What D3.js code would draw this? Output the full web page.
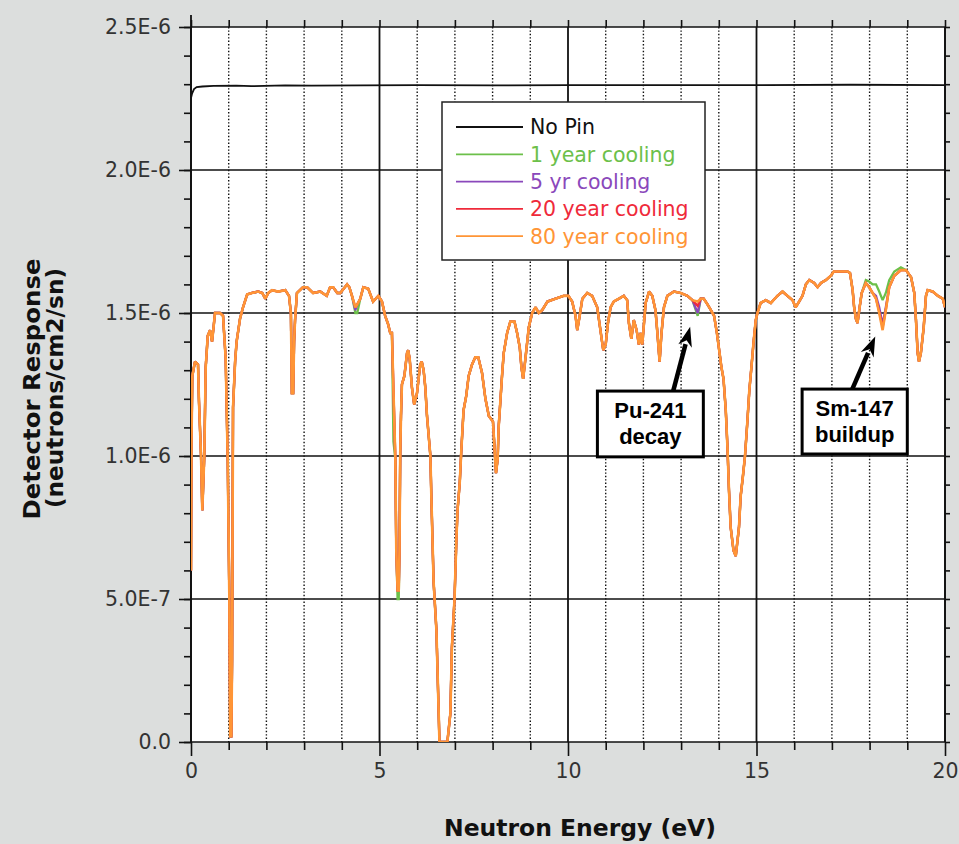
<!DOCTYPE html>
<html>
<head>
<meta charset="utf-8">
<script src="https://cdn.jsdelivr.net/npm/d3@7"></script>
<style>
  html, body { margin: 0; padding: 0; background: #dcdedd; }
  svg { display: block; }
</style>
</head>
<body>
<svg id="chart" width="959" height="844"></svg>
<script>
// ---- Data (detector response in units of 1E-6 neutrons/cm2/sn) ----
const seriesNames  = ["No Pin", "1 year cooling", "5 yr cooling", "20 year cooling", "80 year cooling"];
const seriesColors = ["#111111", "#6cc04a", "#8a48bb", "#ef2a3a", "#ff9536"];

// Unpinned reference response
const noPinEnergy = [0, 0.03, 0.08, 0.15, 0.3, 0.6, 1.2, 1.6, 2.5, 3.2, 4.5, 6, 8, 10, 12.5, 15, 17.5, 20];
const noPinResp   = [2.252, 2.268, 2.283, 2.290, 2.292, 2.294, 2.295, 2.293, 2.296, 2.295, 2.296, 2.297, 2.296, 2.297, 2.297, 2.297, 2.298, 2.297];

// 80 year cooling response: [energy eV, response]
const cooling80yr = [
  [0,0.60],[0.013,1.05],[0.035,1.28],[0.106,1.33],[0.186,1.32],[0.212,1.19],[0.266,1.00],[0.300,0.81],
  [0.353,1.00],[0.39,1.31],[0.444,1.42],[0.505,1.44],[0.558,1.40],[0.598,1.45],[0.637,1.50],[0.77,1.50],
  [0.85,1.49],[0.92,1.34],[0.975,0.98],[1.017,0.50],[1.04,0.02],[1.07,0.02],[1.09,0.29],[1.115,1.17],
  [1.17,1.33],[1.21,1.40],[1.30,1.48],[1.38,1.52],[1.49,1.565],[1.62,1.57],[1.78,1.575],[1.89,1.57],
  [1.97,1.55],[2.05,1.57],[2.15,1.58],[2.31,1.575],[2.50,1.58],[2.60,1.56],[2.65,1.50],[2.675,1.22],
  [2.71,1.22],[2.735,1.40],[2.76,1.475],[2.81,1.57],[2.97,1.59],[3.08,1.59],[3.24,1.57],[3.43,1.575],
  [3.60,1.56],[3.69,1.59],[3.77,1.59],[3.88,1.57],[3.96,1.57],[4.14,1.60],[4.20,1.59],[4.27,1.56],
  [4.36,1.52],[4.41,1.53],[4.49,1.55],[4.57,1.59],[4.70,1.585],[4.83,1.54],[4.97,1.56],[5.065,1.54],
  [5.15,1.49],[5.23,1.46],[5.285,1.43],[5.33,1.43],[5.37,1.23],[5.42,0.99],[5.445,0.67],[5.48,0.53],
  [5.51,0.53],[5.53,0.67],[5.55,1.01],[5.57,1.14],[5.595,1.25],[5.66,1.28],[5.73,1.36],[5.76,1.37],
  [5.80,1.34],[5.86,1.24],[5.92,1.18],[5.995,1.22],[6.08,1.32],[6.12,1.33],[6.17,1.30],[6.215,1.24],
  [6.26,1.14],[6.35,1.00],[6.375,0.86],[6.435,0.56],[6.51,0.39],[6.57,0.10],[6.59,0.0],[6.80,0.0],
  [6.88,0.10],[6.92,0.33],[6.99,0.50],[7.04,0.71],[7.07,0.81],[7.13,0.91],[7.17,1.02],[7.23,1.16],
  [7.30,1.21],[7.365,1.28],[7.455,1.32],[7.54,1.345],[7.62,1.345],[7.72,1.29],[7.81,1.20],[7.90,1.14],
  [8.01,1.12],[8.05,1.03],[8.09,0.94],[8.135,0.99],[8.16,1.10],[8.21,1.20],[8.25,1.28],[8.295,1.36],
  [8.385,1.43],[8.47,1.47],[8.58,1.47],[8.65,1.43],[8.72,1.38],[8.765,1.31],[8.81,1.27],[8.87,1.34],
  [8.96,1.45],[9.05,1.50],[9.14,1.52],[9.225,1.50],[9.315,1.51],[9.455,1.54],[9.67,1.55],[9.88,1.56],
  [10.01,1.56],[10.11,1.54],[10.20,1.49],[10.245,1.44],[10.31,1.49],[10.38,1.55],[10.51,1.57],[10.64,1.56],
  [10.775,1.52],[10.86,1.44],[10.935,1.37],[11.00,1.39],[11.06,1.465],[11.13,1.52],[11.215,1.54],[11.35,1.55],
  [11.48,1.56],[11.57,1.545],[11.615,1.465],[11.68,1.41],[11.745,1.475],[11.82,1.44],[11.88,1.39],[11.925,1.43],
  [11.97,1.39],[12.06,1.535],[12.15,1.575],[12.235,1.56],[12.32,1.51],[12.365,1.44],[12.43,1.33],[12.48,1.43],
  [12.545,1.52],[12.635,1.56],[12.81,1.575],[12.99,1.57],[13.165,1.56],[13.30,1.545],[13.44,1.54],[13.52,1.55],
  [13.60,1.55],[13.70,1.53],[13.79,1.51],[13.875,1.49],[13.95,1.43],[14.01,1.37],[14.07,1.31],[14.125,1.27],
  [14.185,1.16],[14.23,1.03],[14.27,0.88],[14.315,0.75],[14.39,0.67],[14.45,0.65],[14.535,0.75],[14.58,0.86],
  [14.64,0.93],[14.695,1.00],[14.76,1.125],[14.81,1.23],[14.865,1.31],[14.92,1.395],[14.98,1.475],[15.025,1.50],
  [15.11,1.535],[15.245,1.545],[15.38,1.535],[15.555,1.56],[15.69,1.575],[15.82,1.56],[15.955,1.545],[16.04,1.52],
  [16.13,1.54],[16.22,1.56],[16.31,1.60],[16.40,1.615],[16.53,1.605],[16.62,1.59],[16.71,1.605],[16.84,1.615],
  [16.97,1.63],[17.05,1.645],[17.42,1.645],[17.48,1.64],[17.55,1.58],[17.59,1.52],[17.635,1.48],[17.68,1.465],
  [17.725,1.51],[17.79,1.57],[17.90,1.605],[17.99,1.59],[18.08,1.57],[18.17,1.55],[18.255,1.50],[18.345,1.44],
  [18.43,1.51],[18.52,1.59],[18.655,1.63],[18.83,1.65],[18.965,1.65],[19.10,1.625],[19.185,1.57],[19.23,1.475],
  [19.275,1.36],[19.31,1.33],[19.36,1.36],[19.435,1.45],[19.495,1.56],[19.54,1.58],[19.675,1.575],[19.81,1.56],
  [19.94,1.55],[20.0,1.52]
];

// Where shorter cooling times differ from the 80 year curve: [energy eV, response]
const cooling1yrPoints = [
  [4.36,1.50],[4.41,1.50],[5.37,1.05],[5.48,0.50],[5.51,0.50],[13.44,1.49],
  [17.90,1.615],[17.99,1.61],[18.08,1.60],[18.17,1.60],[18.255,1.575],[18.345,1.545],
  [18.43,1.57],[18.52,1.615],[18.655,1.645],[18.83,1.66]
];
const cooling5yrPoints  = [[4.36,1.51],[13.44,1.50],[18.17,1.56],[18.255,1.52],[18.345,1.46],[18.43,1.52]];
const cooling20yrPoints = [[13.44,1.525],[18.255,1.505],[18.345,1.45]];

// Axis ticks
const xMajorTicks = [0, 5, 10, 15, 20];
const xMinorTicks = [1, 2, 3, 4, 6, 7, 8, 9, 11, 12, 13, 14, 16, 17, 18, 19];
const yMajorTicks = [0, 0.5, 1.0, 1.5, 2.0, 2.5];
const yTickLabels = ["0.0", "5.0E-7", "1.0E-6", "1.5E-6", "2.0E-6", "2.5E-6"];
const yMinorTicks = d3.range(0, 26).map(i => i / 10);

// Callout boxes and arrows, in data coordinates
const callouts = [
  { lines: ["Pu-241", "decay"],  box: [10.78, 13.59, 1.227, 0.997], from: [12.79, 1.227], to: [13.24, 1.452] },
  { lines: ["Sm-147", "buildup"], box: [16.21, 19.00, 1.234, 1.007], from: [17.54, 1.234], to: [18.15, 1.418] }
];

// ---- Layout ----
const svg = d3.select("#chart");
const plot = { left: 191, right: 945, top: 27, bottom: 742 };
const x = d3.scaleLinear().domain([0, 20]).range([plot.left, plot.right]);
const y = d3.scaleLinear().domain([0, 2.5]).range([plot.bottom, plot.top]);

svg.append("rect").attr("x", 0).attr("y", 0).attr("width", 959).attr("height", 844).attr("fill", "#dcdedd");
svg.append("rect")
  .attr("x", plot.left).attr("y", plot.top)
  .attr("width", plot.right - plot.left).attr("height", plot.bottom - plot.top)
  .attr("fill", "#ffffff");

// Grid
const grid = svg.append("g");
grid.selectAll("line.minor").data(xMinorTicks).join("line")
  .attr("x1", d => x(d)).attr("x2", d => x(d))
  .attr("y1", plot.top).attr("y2", plot.bottom)
  .attr("stroke", "#111").attr("stroke-width", 1.4).attr("stroke-dasharray", "1.4 2");
grid.selectAll("line.hmaj").data(yMajorTicks).join("line")
  .attr("x1", plot.left).attr("x2", plot.right)
  .attr("y1", d => y(d)).attr("y2", d => y(d))
  .attr("stroke", "#111").attr("stroke-width", 1.6);
grid.selectAll("line.vmaj").data(xMajorTicks).join("line")
  .attr("x1", d => x(d)).attr("x2", d => x(d))
  .attr("y1", plot.top).attr("y2", plot.bottom)
  .attr("stroke", "#111").attr("stroke-width", 1.8);

// Axes
const tickFont = "'DejaVu Sans', Verdana, sans-serif";
function styleAxis(g) {
  g.select(".domain").remove();
  g.selectAll(".tick line").attr("stroke", "#111").attr("stroke-width", 1.6);
  g.selectAll(".tick text").attr("fill", "#333").style("font-family", tickFont).style("font-size", "20.5px");
}
svg.append("g").attr("transform", `translate(${plot.left},0)`)
  .call(d3.axisLeft(y).tickValues(yMinorTicks).tickSize(7).tickFormat(""))
  .call(styleAxis);
svg.append("g").attr("transform", `translate(${plot.left},0)`)
  .call(d3.axisLeft(y).tickValues(yMajorTicks).tickSize(12).tickPadding(8).tickFormat((d, i) => yTickLabels[i]))
  .call(styleAxis);
svg.append("g").attr("transform", `translate(${plot.right},0)`)
  .call(d3.axisRight(y).tickValues(yMinorTicks).tickSize(5).tickFormat(""))
  .call(styleAxis);
svg.append("g").attr("transform", `translate(0,${plot.bottom})`)
  .call(d3.axisBottom(x).tickValues(xMinorTicks).tickSize(8).tickFormat(""))
  .call(styleAxis);
svg.append("g").attr("transform", `translate(0,${plot.bottom})`)
  .call(d3.axisBottom(x).tickValues(xMajorTicks).tickSize(14).tickPadding(7).tickFormat(d3.format("d")))
  .call(styleAxis);
svg.append("g").attr("transform", `translate(0,${plot.top})`)
  .call(d3.axisTop(x).tickValues(xMinorTicks.concat(xMajorTicks)).tickSize(7).tickFormat(""))
  .call(styleAxis);

// Axis frame lines
svg.append("line").attr("x1", plot.left).attr("x2", plot.left).attr("y1", plot.top - 12).attr("y2", plot.bottom)
  .attr("stroke", "#111").attr("stroke-width", 1.8);
svg.append("line").attr("x1", plot.right).attr("x2", plot.right).attr("y1", plot.top).attr("y2", plot.bottom)
  .attr("stroke", "#111").attr("stroke-width", 1.6);

// ---- Series ----
function withLocalPoints(base, points) {
  const lookup = new Map(points.map(p => [p[0], p[1]]));
  return base.map(([e, v]) => [e, lookup.has(e) ? lookup.get(e) : v]);
}
const series = [
  { name: seriesNames[0], color: seriesColors[0], data: noPinEnergy.map((e, i) => [e, noPinResp[i]]), width: 1.8 },
  { name: seriesNames[1], color: seriesColors[1], data: withLocalPoints(cooling80yr, cooling1yrPoints), width: 2.3 },
  { name: seriesNames[2], color: seriesColors[2], data: withLocalPoints(cooling80yr, cooling5yrPoints), width: 2.3 },
  { name: seriesNames[3], color: seriesColors[3], data: withLocalPoints(cooling80yr, cooling20yrPoints), width: 2.3 },
  { name: seriesNames[4], color: seriesColors[4], data: cooling80yr, width: 2.6 }
];

svg.append("clipPath").attr("id", "plotClip").append("rect")
  .attr("x", plot.left).attr("y", plot.top - 2)
  .attr("width", plot.right - plot.left).attr("height", plot.bottom - plot.top + 2);

const line = d3.line().x(d => x(d[0])).y(d => y(d[1])).curve(d3.curveLinear);
svg.append("g").attr("clip-path", "url(#plotClip)")
  .selectAll("path").data(series).join("path")
  .attr("d", d => line(d.data))
  .attr("fill", "none")
  .attr("stroke", d => d.color)
  .attr("stroke-width", d => d.width)
  .attr("stroke-linejoin", "miter")
  .attr("stroke-miterlimit", 2);

// ---- Legend ----
const legend = svg.append("g");
legend.append("rect").attr("x", 442).attr("y", 102).attr("width", 263).attr("height", 158)
  .attr("fill", "#ffffff").attr("stroke", "#222").attr("stroke-width", 1.5);
const rows = legend.selectAll("g.row").data(series).join("g")
  .attr("transform", (d, i) => `translate(0,${127 + i * 27.3})`);
rows.append("line").attr("x1", 456).attr("x2", 523).attr("y1", 0).attr("y2", 0)
  .attr("stroke", d => d.color).attr("stroke-width", 1.8);
rows.append("text").attr("x", 530).attr("y", 0).attr("dy", "0.36em")
  .attr("fill", d => d.color)
  .style("font-family", tickFont).style("font-size", "20.5px")
  .text(d => d.name);

// ---- Callouts ----
const ann = svg.append("g");
callouts.forEach(c => {
  const [e0, e1, v0, v1] = c.box;
  const bx = x(e0), bw = x(e1) - x(e0), by = y(v0), bh = y(v1) - y(v0);
  // arrow shaft and head
  const fx = x(c.from[0]), fy = y(c.from[1]), tx = x(c.to[0]), ty = y(c.to[1]);
  const len = Math.hypot(tx - fx, ty - fy), ux = (tx - fx) / len, uy = (ty - fy) / len;
  const headLen = 20, headHalf = 7;
  const hx = tx - ux * headLen, hy = ty - uy * headLen;
  ann.append("line").attr("x1", fx).attr("y1", fy).attr("x2", hx + ux * 2).attr("y2", hy + uy * 2)
    .attr("stroke", "#000").attr("stroke-width", 4.5);
  ann.append("path")
    .attr("d", `M${tx},${ty} L${hx - uy * headHalf},${hy + ux * headHalf} L${hx + ux * 6},${hy + uy * 6} L${hx + uy * headHalf},${hy - ux * headHalf} Z`)
    .attr("fill", "#000");
  ann.append("rect").attr("x", bx).attr("y", by).attr("width", bw).attr("height", bh)
    .attr("fill", "#ffffff").attr("stroke", "#000").attr("stroke-width", 3);
  ann.selectAll(null).data(c.lines).join("text")
    .attr("x", bx + bw / 2).attr("y", (d, i) => by + 27 + i * 26)
    .attr("text-anchor", "middle")
    .style("font-family", "'Liberation Sans', Arial, sans-serif")
    .style("font-weight", "bold").style("font-size", "22px")
    .attr("fill", "#000")
    .text(d => d);
});

// ---- Axis titles ----
const titleFont = "'DejaVu Sans', Verdana, sans-serif";
svg.append("text").attr("x", 580).attr("y", 836).attr("text-anchor", "middle")
  .style("font-family", titleFont).style("font-weight", "bold").style("font-size", "23px")
  .attr("textLength", 272).attr("lengthAdjust", "spacingAndGlyphs")
  .attr("fill", "#111").text("Neutron Energy (eV)");
svg.append("text").attr("transform", "translate(40,389) rotate(-90)").attr("text-anchor", "middle")
  .style("font-family", titleFont).style("font-weight", "bold").style("font-size", "23px")
  .attr("textLength", 261).attr("lengthAdjust", "spacingAndGlyphs")
  .attr("fill", "#111").text("Detector Response");
svg.append("text").attr("transform", "translate(63,388) rotate(-90)").attr("text-anchor", "middle")
  .style("font-family", titleFont).style("font-weight", "bold").style("font-size", "23px")
  .attr("textLength", 240).attr("lengthAdjust", "spacingAndGlyphs")
  .attr("fill", "#111").text("(neutrons/cm2/sn)");
</script>
</body>
</html>
